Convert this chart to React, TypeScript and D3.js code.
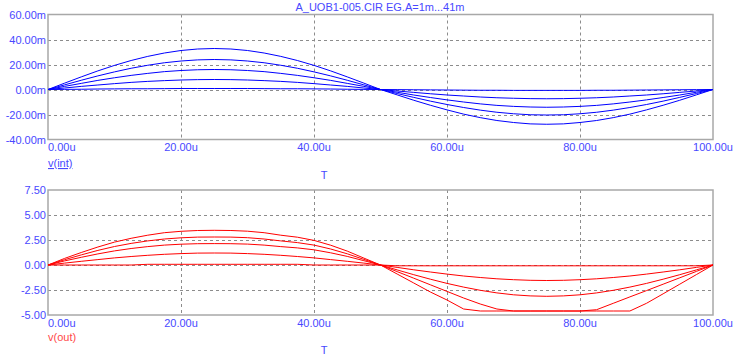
import React from "react";
import * as d3 from "d3";

// time axis (µs), 2.5u steps
const timeUs: number[] = d3.range(0, 100.001, 2.5);

const title = "A_UOB1-005.CIR EG.A=1m...41m";
const xTicks = [0, 20, 40, 60, 80, 100];
const xTickLabels = ["0.00u", "20.00u", "40.00u", "60.00u", "80.00u", "100.00u"];

const intTicks = [60, 40, 20, 0, -20, -40];
const intTickLabels = ["60.00m", "40.00m", "20.00m", "0.00m", "-20.00m", "-40.00m"];
const outTicks = [7.5, 5, 2.5, 0, -2.5, -5];
const outTickLabels = ["7.50", "5.00", "2.50", "0.00", "-2.50", "-5.00"];

// v(int) in mV, one series per A = 41m, 31m, 21m, 11m, 1m
const vInt41 = [0, 5.1, 10.1, 14.9, 19.3, 23.2, 26.5, 29.2, 31.2, 32.4, 32.8, 32.4, 31.2, 29.2, 26.5, 23.2, 19.3, 14.9, 10.1, 5.1, 0,
  -4.3, -8.6, -12.6, -16.3, -19.7, -22.5, -24.8, -26.4, -27.5, -27.8, -27.5, -26.4, -24.8, -22.5, -19.7, -16.3, -12.6, -8.6, -4.3, 0];
const vInt31 = [0, 3.7, 7.4, 10.9, 14.1, 17.0, 19.4, 21.4, 22.8, 23.7, 24, 23.7, 22.8, 21.4, 19.4, 17.0, 14.1, 10.9, 7.4, 3.7, 0,
  -3.2, -6.3, -9.3, -12.0, -14.4, -16.5, -18.2, -19.4, -20.2, -20.4, -20.2, -19.4, -18.2, -16.5, -14.4, -12.0, -9.3, -6.3, -3.2, 0];
const vInt21 = [0, 2.5, 4.9, 7.3, 9.4, 11.3, 12.9, 14.3, 15.2, 15.8, 16, 15.8, 15.2, 14.3, 12.9, 11.3, 9.4, 7.3, 4.9, 2.5, 0,
  -2.2, -4.4, -6.4, -8.3, -10.0, -11.5, -12.7, -13.5, -14.0, -14.2, -14.0, -13.5, -12.7, -11.5, -10.0, -8.3, -6.4, -4.4, -2.2, 0];
const vInt11 = [0, 1.2, 2.5, 3.6, 4.7, 5.7, 6.5, 7.1, 7.6, 7.9, 8, 7.9, 7.6, 7.1, 6.5, 5.7, 4.7, 3.6, 2.5, 1.2, 0,
  -1.2, -2.3, -3.4, -4.4, -5.2, -6.0, -6.6, -7.0, -7.3, -7.4, -7.3, -7.0, -6.6, -6.0, -5.2, -4.4, -3.4, -2.3, -1.2, 0];
const vInt1 = [0, 0.1, 0.2, 0.4, 0.5, 0.6, 0.6, 0.7, 0.8, 0.8, 0.8, 0.8, 0.8, 0.7, 0.6, 0.6, 0.5, 0.4, 0.2, 0.1, 0,
  -0.1, -0.2, -0.3, -0.4, -0.5, -0.6, -0.6, -0.7, -0.7, -0.7, -0.7, -0.7, -0.6, -0.6, -0.5, -0.4, -0.3, -0.2, -0.1, 0];

// v(out) in V
const vOut41 = [0, 0.66, 1.25, 1.8, 2.29, 2.67, 2.98, 3.23, 3.37, 3.45, 3.47, 3.45, 3.38, 3.23, 2.98, 2.78, 2.46, 1.98, 1.39, 0.69, 0,
  -0.9, -1.8, -2.7, -3.5, -4.4, -4.6, -4.6, -4.6, -4.6, -4.6, -4.6, -4.6, -4.6, -4.6, -4.6, -3.83, -2.88, -1.92, -0.96, 0];
const vOut31 = [0, 0.53, 1.01, 1.46, 1.85, 2.16, 2.41, 2.6, 2.72, 2.79, 2.8, 2.79, 2.73, 2.6, 2.41, 2.24, 1.99, 1.6, 1.12, 0.56, 0,
  -0.66, -1.32, -1.98, -2.64, -3.3, -3.9, -4.4, -4.6, -4.6, -4.6, -4.6, -4.6, -4.47, -3.83, -3.19, -2.56, -1.92, -1.28, -0.64, 0];
const vOut21 = [0, 0.41, 0.77, 1.11, 1.41, 1.65, 1.84, 1.99, 2.08, 2.13, 2.14, 2.13, 2.09, 1.99, 1.84, 1.71, 1.52, 1.22, 0.86, 0.43, 0,
  -0.49, -0.97, -1.42, -1.84, -2.21, -2.53, -2.79, -2.98, -3.09, -3.13, -3.09, -2.98, -2.79, -2.53, -2.21, -1.84, -1.42, -0.97, -0.49, 0];
const vOut11 = [0, 0.19, 0.37, 0.54, 0.71, 0.85, 0.97, 1.07, 1.14, 1.19, 1.2, 1.19, 1.14, 1.07, 0.97, 0.85, 0.71, 0.54, 0.37, 0.19, 0,
  -0.24, -0.48, -0.7, -0.91, -1.1, -1.25, -1.38, -1.47, -1.53, -1.55, -1.53, -1.47, -1.38, -1.25, -1.1, -0.91, -0.7, -0.48, -0.24, 0];
const vOut1 = [0, 0, 0, 0, 0, 0, 0.07, 0.07, 0.07, 0.07, 0.07, 0.07, 0.07, 0.07, 0.07, 0.07, 0, 0, 0, 0, 0,
  -0.08, -0.08, -0.08, -0.08, -0.08, -0.08, -0.08, -0.08, -0.08, -0.08, -0.08, -0.08, -0.08, -0.08, -0.08, -0.08, -0.08, -0.08, -0.08, 0];

const intSeries = [vInt41, vInt31, vInt21, vInt11, vInt1];
const outSeries = [vOut41, vOut31, vOut21, vOut11, vOut1];

const W = 744;
const H = 362;
const FONT = "Arial, 'Liberation Sans', sans-serif";
const LABEL_BLUE = "#4848ff";
const GRID = "#8c8c8c";
const FRAME = "#a8a8a8";

const x = d3.scaleLinear().domain([0, 100]).range([48, 713]);

type PanelProps = {
  y: d3.ScaleLinear<number, number>;
  ticks: number[];
  tickLabels: string[];
  series: number[][];
  color: string;
  xLabelY: number;
};

function Panel({ y, ticks, tickLabels, series, color, xLabelY }: PanelProps) {
  const [y0, y1] = y.range();
  const top = Math.min(y0, y1);
  const bottom = Math.max(y0, y1);
  const line = d3
    .line<number>()
    .x((_, i) => x(timeUs[i]))
    .y((d) => y(d));
  return (
    <g>
      {/* grid */}
      {xTicks.slice(1, -1).map((t) => (
        <line key={"vx" + t} x1={Math.round(x(t)) + 0.5} x2={Math.round(x(t)) + 0.5} y1={top} y2={bottom}
          stroke={GRID} strokeDasharray="3,3" strokeWidth={1} />
      ))}
      {ticks.slice(1, -1).map((t) => (
        <line key={"hy" + t} x1={x(0)} x2={x(100)} y1={Math.round(y(t)) + 0.5} y2={Math.round(y(t)) + 0.5}
          stroke={GRID} strokeDasharray="3,3" strokeWidth={1} />
      ))}
      {/* frame */}
      <rect x={x(0)} y={top} width={x(100) - x(0)} height={bottom - top} fill="none" stroke={FRAME} strokeWidth={1.5} />
      {/* series */}
      {series.map((s, i) => (
        <path key={i} d={line(s) || ""} fill="none" stroke={color} strokeWidth={1} />
      ))}
      {/* y tick labels */}
      {ticks.map((t, i) => (
        <text key={"yl" + t} x={46} y={y(t) + 4} textAnchor="end" fontFamily={FONT} fontSize={11} fill={LABEL_BLUE}>
          {tickLabels[i]}
        </text>
      ))}
      {/* x tick labels */}
      {xTicks.map((t, i) => (
        <text key={"xl" + t} x={i === 0 ? x(t) : x(t)} y={xLabelY} textAnchor={i === 0 ? "start" : "middle"}
          fontFamily={FONT} fontSize={11} fill={LABEL_BLUE}>
          {xTickLabels[i]}
        </text>
      ))}
    </g>
  );
}

export default function App() {
  const yInt = d3.scaleLinear().domain([-40, 60]).range([139.5, 14.5]);
  const yOut = d3.scaleLinear().domain([-5, 7.5]).range([315, 190]);
  return (
    <svg width={W} height={H} style={{ position: "absolute", left: 0, top: 0, background: "#fff" }}>
      <rect x={0} y={0} width={W} height={H} fill="#fff" />
      <text x={380} y={11} textAnchor="middle" fontFamily={FONT} fontSize={11} fill={LABEL_BLUE}>
        {title}
      </text>
      <Panel y={yInt} ticks={intTicks} tickLabels={intTickLabels} series={intSeries} color="#0000ff" xLabelY={151} />
      <text x={48} y={167} fontFamily={FONT} fontSize={11} fill={LABEL_BLUE} textDecoration="underline">
        v(int)
      </text>
      <text x={324} y={179} textAnchor="middle" fontFamily={FONT} fontSize={11} fill={LABEL_BLUE}>
        T
      </text>
      <Panel y={yOut} ticks={outTicks} tickLabels={outTickLabels} series={outSeries} color="#ff0000" xLabelY={327} />
      <text x={48} y={341} fontFamily={FONT} fontSize={11} fill="#ff4848">
        v(out)
      </text>
      <text x={324} y={354} textAnchor="middle" fontFamily={FONT} fontSize={11} fill={LABEL_BLUE}>
        T
      </text>
    </svg>
  );
}
